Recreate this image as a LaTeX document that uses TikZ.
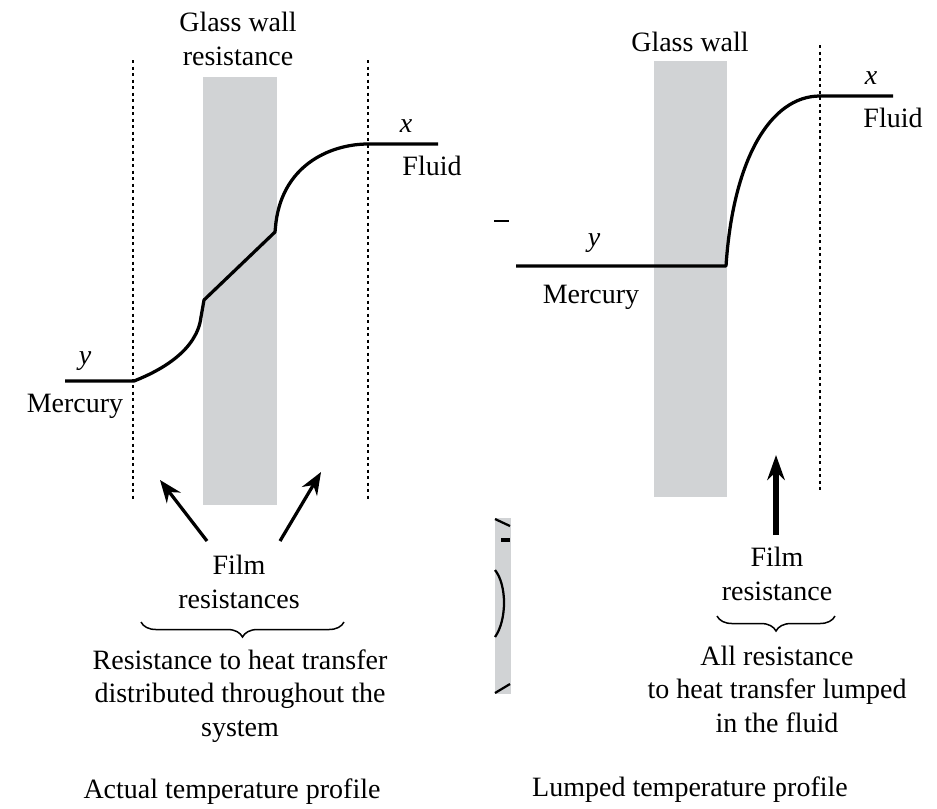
\documentclass[tikz,border=0pt]{standalone}
\usepackage{fontspec}
\setmainfont{Liberation Serif}
\usetikzlibrary{arrows.meta,decorations.pathreplacing}
\definecolor{wallgray}{RGB}{209,211,213}

\begin{document}
\begin{tikzpicture}[x=0.4pt, y=-0.4pt, font=\fontsize{11.2}{13.4}\selectfont,
	lbl/.style={align=center, inner sep=0pt},
	wall/.style={fill=wallgray, draw=none},
	film/.style={line width=0.5pt, dash pattern=on 1.3pt off 1.3pt},
	profile/.style={line width=1.3pt, line join=round},
	push/.style={line width=1.3pt, -{Stealth[length=9pt, width=7pt]}},
	bigpush/.style={line width=2.2pt, -{Stealth[length=10pt, width=7pt]}},
	under/.style={decorate, decoration={brace, mirror, amplitude=6pt}, line width=0.6pt}]
	\useasboundingbox (0,0) rectangle (937,808);

	% actual temperature profile
	\fill[wall] (203,77) rectangle (277,505);
	\draw[film] (133,60) -- (133,500);
	\draw[film] (368,60) -- (368,500);
	\node[lbl] (w1) at (238,39) {Glass wall\\resistance};

	\coordinate (y1) at (65,381);
	\coordinate (x1) at (438,144);
	\draw[profile] (y1) -- (134,381) .. controls (162,370) and (197,350) .. (201,317)
		-- (204,300) -- (275,232) -- (276,222) .. controls (284,162) and (334,144) .. (368,144) -- (x1);
	\node[lbl] (ly1) at (85,361) {\textit{y}};
	\node[lbl] (m1) at (75,406) {Mercury};
	\node[lbl] (lx1) at (406,126) {\textit{x}};
	\node[lbl] (f1) at (432,166) {Fluid};

	\node[lbl] (r1) at (239,582) {Film\\resistances};
	\coordinate (a1) at (207,541);
	\coordinate (h1) at (160,480);
	\coordinate (a2) at (280,541);
	\coordinate (h2) at (321,472);
	\draw[push] (a1) -- (h1);
	\draw[push] (a2) -- (h2);
	\coordinate (b1) at (141,622);
	\coordinate (b2) at (344,622);
	\draw[under] (b1) -- (b2);
	\node[lbl] (d1) at (240,696) {Resistance to heat transfer\\distributed throughout the\\system};
	\node[lbl] (c1) at (232,792) {Actual temperature profile};

	% scan leftovers between the two panels
	\fill[wall] (495,518) rectangle (511,694);
	\draw[line width=0.9pt] (494,221) -- (509,221);
	\draw[line width=0.9pt] (495,519) -- (510,526);
	\draw[line width=1.8pt] (501,540) -- (510,540);
	\draw[line width=0.9pt] (495,570) .. controls (507,585) and (507,620) .. (495,637);
	\draw[line width=0.9pt] (495,693) -- (510,684);

	% lumped temperature profile
	\fill[wall] (654,61) rectangle (727,497);
	\draw[film] (820,45) -- (820,492);
	\node[lbl] (w2) at (690,42) {Glass wall};

	\coordinate (y2) at (516,266);
	\coordinate (x2) at (893,96);
	\draw[profile] (y2) -- (726,266) .. controls (733,160) and (770,96) .. (820,96) -- (x2);
	\node[lbl] (ly2) at (594,243) {\textit{y}};
	\node[lbl] (m2) at (591,297) {Mercury};
	\node[lbl] (lx2) at (871,78) {\textit{x}};
	\node[lbl] (f2) at (893,118) {Fluid};

	\node[lbl] (r2) at (777,574) {Film\\resistance};
	\coordinate (a3) at (776,535);
	\coordinate (h3) at (776,455);
	\draw[bigpush] (a3) -- (h3);
	\coordinate (b3) at (717,616);
	\coordinate (b4) at (835,616);
	\draw[under] (b3) -- (b4);
	\node[lbl] (d2) at (777,689) {All resistance\\to heat transfer lumped\\in the fluid};
	\node[lbl] (c2) at (690,790) {Lumped temperature profile};
\end{tikzpicture}
\end{document}
